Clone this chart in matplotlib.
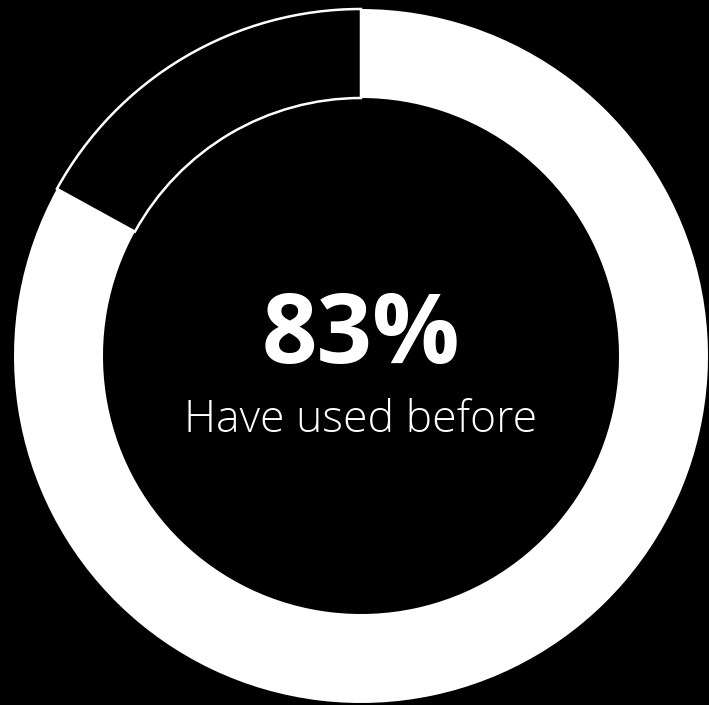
import matplotlib.pyplot as plt

plt.rcParams['font.family'] = ['Open Sans', 'DejaVu Sans']

labels = ['Have used before', 'Have not used']
shares = [83, 17]
colors = ['white', 'black']
big_label = '83%'
sub_label = 'Have used before'

fig = plt.figure(figsize=(7.09, 7.05), dpi=100, facecolor='black')
ax = fig.add_axes([0, 0, 1, 1])
ax.set_facecolor('black')

wedges, _ = ax.pie(shares, colors=colors, startangle=90, counterclock=False,
                   center=(361, 349), radius=347, frame=True,
                   wedgeprops=dict(width=89, linewidth=0))
wedges[1].set_edgecolor('white')
wedges[1].set_linewidth(1.8)

ax.set_xlim(0, 709)
ax.set_ylim(0, 705)
ax.set_aspect('equal')
ax.axis('off')

ax.text(361, 705 - 363, big_label, color='white', fontsize=70, fontweight='bold',
        ha='center', va='baseline')
ax.text(361, 705 - 432, sub_label, color='white', fontsize=32, fontweight='light',
        ha='center', va='baseline')

fig.savefig('out.png', dpi=100, facecolor='black')
